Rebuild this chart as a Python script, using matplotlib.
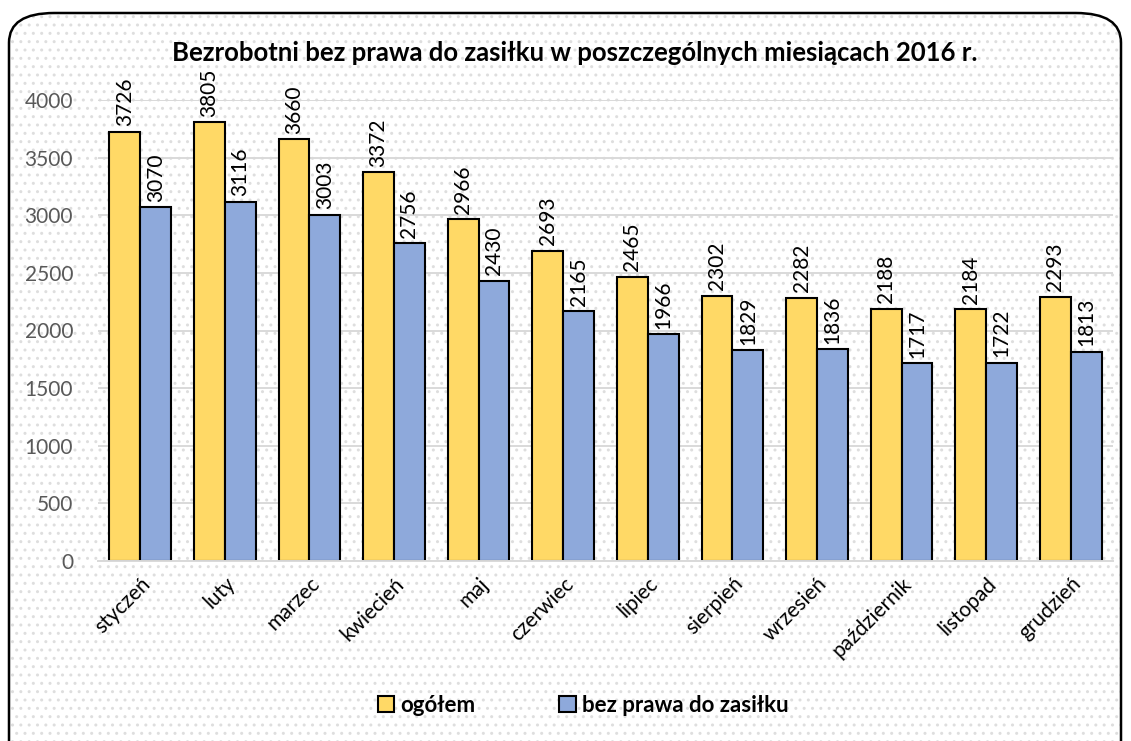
import matplotlib.pyplot as plt
from matplotlib.patches import FancyBboxPatch
import numpy as np

miesiace = ['styczeń', 'luty', 'marzec', 'kwiecień', 'maj', 'czerwiec', 'lipiec',
            'sierpień', 'wrzesień', 'październik', 'listopad', 'grudzień']
ogolem = [3726, 3805, 3660, 3372, 2966, 2693, 2465, 2302, 2282, 2188, 2184, 2293]
bez_prawa = [3070, 3116, 3003, 2756, 2430, 2165, 1966, 1829, 1836, 1717, 1722, 1813]
y_ticks = [0, 500, 1000, 1500, 2000, 2500, 3000, 3500, 4000]

plt.rcParams['font.family'] = ['Lato', 'DejaVu Sans']

fig = plt.figure(figsize=(11.31, 7.41), dpi=100)
W, H = 1131, 741

# tlo w kropki + zaokraglona ramka
box = ((9 / W, -0.05), (W - 10) / W - 9 / W, (H - 13) / H + 0.05)
dots = FancyBboxPatch(*box, boxstyle="round,pad=0,rounding_size=0.04",
                      transform=fig.transFigure, facecolor='white',
                      edgecolor='#DEDEDE', hatch='..', linewidth=0, zorder=-2)
fig.patches.append(dots)
frame = FancyBboxPatch(*box, boxstyle="round,pad=0,rounding_size=0.04",
                       transform=fig.transFigure, facecolor='none',
                       edgecolor='black', linewidth=1.8, zorder=-1)
fig.patches.append(frame)

ax = fig.add_axes([98 / W, 1 - 561 / H, (1113 - 98) / W, (561 - 100) / H])
ax.patch.set_alpha(0)

x = np.arange(len(miesiace))
w = 0.365
b1 = ax.bar(x - w / 2, ogolem, w, color='#FFD966', edgecolor='black', linewidth=1.5,
            label='ogółem', zorder=3)
b2 = ax.bar(x + w / 2, bez_prawa, w, color='#8EA9DB', edgecolor='black', linewidth=1.5,
            label='bez prawa do zasiłku', zorder=3)
for bars in (b1, b2):
    for t in ax.bar_label(bars, rotation=90, padding=4, fontsize=15, color='black'):
        t.set_clip_on(False)

ax.set_xlim(-0.5, len(miesiace) - 0.5)
ax.set_ylim(0, 4000)
ax.set_yticks(y_ticks)
ax.set_yticklabels([str(v) for v in y_ticks], fontsize=15, color='#595959')
ax.set_xticks(x)
ax.set_xticklabels(miesiace, rotation=45, ha='right', rotation_mode='anchor',
                   fontsize=15, color='black')
ax.tick_params(axis='y', length=0, pad=18)
ax.tick_params(axis='x', length=0, pad=9)
ax.yaxis.grid(True, color='#D9D9D9', linewidth=1.4, zorder=0)
for s in ['top', 'right', 'left']:
    ax.spines[s].set_visible(False)
ax.spines['bottom'].set_color('#D9D9D9')
ax.spines['bottom'].set_linewidth(1.4)
ax.spines['bottom'].set_zorder(4)

fig.text(575 / W, 1 - 53 / H, 'Bezrobotni bez prawa do zasiłku w poszczególnych miesiącach 2016 r.',
         ha='center', va='center', fontsize=18.5, fontweight='bold')

leg = ax.legend(loc='center', bbox_to_anchor=(583 / W, 1 - 705 / H),
                bbox_transform=fig.transFigure, ncol=2, frameon=False,
                prop={'weight': 'bold', 'size': 16}, handlelength=0.75,
                handleheight=0.75, handletextpad=0.25, columnspacing=3.8)

fig.savefig('out.png', dpi=100)
